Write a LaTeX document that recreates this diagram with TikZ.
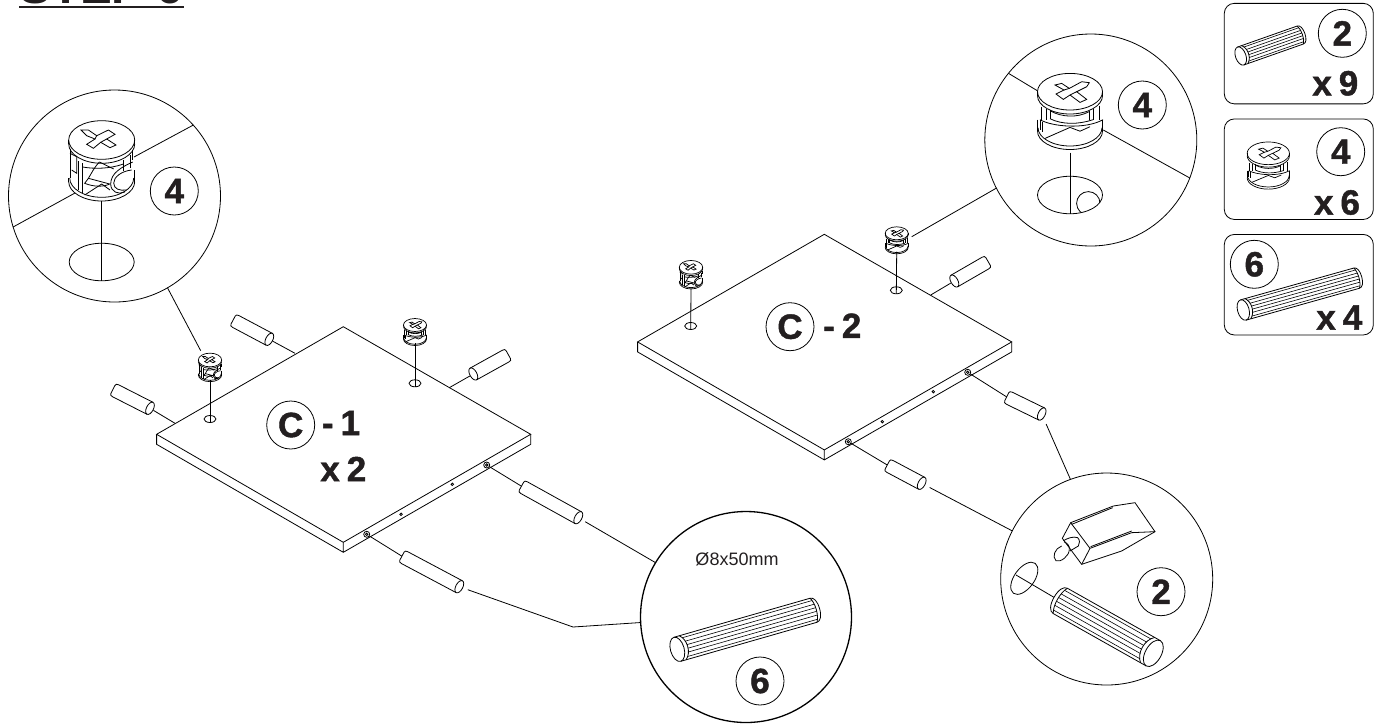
\documentclass[tikz,border=0pt]{standalone}
\usepackage{fontspec}
\usepackage{tikz}
\usetikzlibrary{shapes.geometric}
\setmainfont{Liberation Sans}
\newfontfamily\heavyfont[UprightFont=* Bold,FakeBold=1.3]{Liberation Sans}
\definecolor{ink}{HTML}{231F20}
\newcommand{\gapx}{\hspace{.2em}}
\tikzset{
  callout/.style={draw, circle, inner sep=0pt, outer sep=0pt, minimum size=212pt},
  badge/.style={draw, circle, inner sep=0pt, outer sep=0pt, minimum size=48pt, text=ink, font=\fontsize{35}{35}\selectfont\heavyfont},
  bigtext/.style={inner sep=0pt, text=ink, font=\fontsize{35}{35}\selectfont\heavyfont},
  stockbox/.style={draw, rectangle, rounded corners=10pt, outer sep=0pt, minimum width=149pt, minimum height=100.5pt},
  tophole/.style={draw, ellipse, inner sep=0pt, outer sep=0pt, minimum width=12pt, minimum height=7pt},
  capehole/.style={draw, ellipse, inner sep=0pt, outer sep=0pt, minimum width=65pt, minimum height=37.5pt},
  sidehole/.style={draw, circle, inner sep=0pt, outer sep=0pt, minimum size=6pt},
  pinhole/.style={draw, circle, inner sep=0pt, minimum size=2.5pt}
}
\newcommand{\lowarc}[3]{(-#1,#2) .. controls (-#1,#2+.55*#3) and (-.55*#1,#2+#3) .. (0,#2+#3) .. controls (.55*#1,#2+#3) and (#1,#2+.55*#3) .. (#1,#2)}
\newcommand{\panelbox}[2]{
\begin{scope}[shift={(#1,#2)}]
\draw (0,0) -- (187.4,107.6) -- (0,215.6) -- (-186.7,107.6) -- cycle;
\draw (-186.7,107.6) -- (-186.7,117.6) -- (0,225.6) -- (187.4,117.6) -- (187.4,107.6) (0,215.6) -- (0,225.6);
\end{scope}
}
\newcommand{\plaindowel}[5]{
\begin{scope}[shift={(#2,#3)},rotate=#4]
\coordinate (#1-near) at (0,0);
\coordinate (#1-far) at (#5,0);
\draw (0,6.7) -- (#5-3,6.7) .. controls (#5-1,6.7) and (#5,6) .. (#5,4.5) -- (#5,-4.5) .. controls (#5,-6) and (#5-1,-6.7) .. (#5-3,-6.7) -- (0,-6.7);
\draw (0,0) ellipse (3.5 and 6.7);
\end{scope}
}
\newcommand{\ribdowel}[6]{
\begin{scope}[shift={(#2,#3)},rotate=#4]
\coordinate (#1-far) at (#5,0);
\draw (0,#6) -- (#5-.5*#6,#6) .. controls (#5-.2*#6,#6) and (#5,.6*#6) .. (#5,0) .. controls (#5,-.6*#6) and (#5-.2*#6,-#6) .. (#5-.5*#6,-#6) -- (0,-#6);
\draw (0,0) ellipse ({.55*#6} and #6);
\draw (.45*#6,#6) .. controls (#6,.55*#6) and (#6,-.55*#6) .. (.45*#6,-#6);
\draw (#5-.5*#6,#6) .. controls (#5-.2*#6,.5*#6) and (#5-.2*#6,-.5*#6) .. (#5-.5*#6,-#6);
\foreach \rpos/\rcurv in {-.78/.39,-.45/.8,-.15/.98,.15/.98,.45/.8,.78/.39}
  \draw[line width=.6pt] ({.45*#6+.41*#6*\rcurv},{\rpos*#6}) -- ({#5-.5*#6+.22*#6*\rcurv},{\rpos*#6});
\end{scope}
}
\newcommand{\camround}[3]{
\begin{scope}[shift={(#1,#2)},#3]
\draw (0,0) ellipse (33 and 19.3);
\draw (-20.7,-10) -- (-13.3,-10) -- (-5,-4.3) -- (6.7,-10) -- (13.3,-5.7) -- (5,-1) -- (14.3,5) -- (8.3,7.7) -- (-1,2.3) -- (-8.3,8.3) -- (-15,4.3) -- (-6.7,-1) -- (-15,-4.3) -- cycle;
\draw (-5,-4.3) -- (-6.7,-1) (5,-1) -- (-1,2.3);
\draw \lowarc{33}{4}{19.3};
\draw \lowarc{33}{41.7}{19.3};
\draw \lowarc{32}{38}{19.3};
\draw (-33,0) -- (-33,4) (33,0) -- (33,4) (-33,38) -- (-33,41.7) (33,30) -- (33,41.7);
\draw (-31,9) -- (-31,38) (31,10) -- (31,20);
\draw (-31.7,13.3) -- (-25,16.7) -- (-25,33.3) -- (-30,30);
\draw (-23.3,21) -- (-23.3,50) (-19,23) -- (-19,53) (21.7,20) -- (21.7,31) (28.3,15) -- (28.3,28);
\draw (-19,27) .. controls (-8,29) and (8,29) .. (21.7,24);
\draw (-2.3,22) .. controls (-8,28) and (-10,33) .. (-13.3,38.3) -- (-17,43.3) .. controls (-8,47) and (2,47) .. (8,44) -- (-13.3,38.3);
\draw (-17,55) -- (0,44) -- (8.3,50) (-2.3,22) -- (12,29);
\draw (31,22) .. controls (20,27) and (9,33) .. (9,44) .. controls (9,52) and (17,55) .. (23,52);
\draw (30,30) .. controls (20,31) and (12,37) .. (12,43) .. controls (12,49) and (18,51) .. (25,50);
\end{scope}
}
\newcommand{\camgroove}[3]{
\begin{scope}[shift={(#1,#2)},#3]
\draw (0,0) ellipse (32.5 and 18.3);
\draw (-15,-6.7) -- (-8.3,-8.3) -- (-.7,-3.3) -- (11.7,-10) -- (19.3,-9) -- (16.7,-5) -- (6.7,0) -- (16.7,7.7) -- (10,10.7) -- (0,3.3) -- (-6.7,7.7) -- (-14,2.3) -- (-6,-1.7) -- cycle;
\draw (-.7,-3.3) -- (-6,-1.7) (6.7,0) -- (0,3.3);
\draw \lowarc{32.5}{4}{18.3};
\draw (-32.5,0) -- (-32.5,4) (32.5,0) -- (32.5,4);
\draw (-29,15) -- (-29,28) (29,14) -- (29,28) (-24,17) -- (-24,28) (-20,18) -- (-20,27) (19,19) -- (19,28) (23,17) -- (23,28);
\draw (-20,19) .. controls (-8,26) and (8,26) .. (19,20);
\draw (-20,27) .. controls (-8,33) and (8,33) .. (23,28);
\draw (-30,28) .. controls (-18,35) and (15,38) .. (33,28);
\draw \lowarc{32.5}{39.5}{18.3};
\draw \lowarc{32}{36}{18.3};
\draw (-32.5,28) -- (-32.5,39.5) (32.5,28) -- (32.5,39.5) (-30,28) -- (-30,38) (-28,30) -- (-28,40);
\draw (-25,46.7) -- (0,35.7) -- (10,39.5) -- (20,35);
\end{scope}
}
\begin{document}
\begin{tikzpicture}[x=1pt,y=-1pt,line width=.8pt]
\useasboundingbox (0,0) rectangle (1386,724);
% heading, cut by the page
\node[anchor=base west, inner sep=0pt, text=ink, font=\fontsize{47.6}{47.6}\selectfont\bfseries] (heading) at (19,3) {STEP 6};
\draw[line width=2.3pt, ink] ([yshift=-3.2pt]heading.south west) -- ([yshift=-3.2pt]heading.south east);
% the parts box
\node[stockbox] (stocka) at (1298.8,53.6) {};
\node[stockbox] (stockb) at (1298.8,169.2) {};
\node[stockbox] (stockc) at (1298.8,284.7) {};
\node[badge] (numa) at (1342.3,33.3) {2};
\node[badge] (numb) at (1340.7,151.7) {4};
\node[badge] (numc) at (1254.3,264.3) {6};
\node[bigtext] (qtya) at (1335.3,83.3) {x\gapx 9};
\node[bigtext] (qtyb) at (1337,202.5) {x\gapx 6};
\node[bigtext] (qtyc) at (1339.3,317.5) {x\gapx 4};
\ribdowel{stockrib}{1240.7}{56}{19.4}{68}{9.5}
\ribdowel{stocklong}{1243.3}{310}{15.7}{123}{10.5}
\camgroove{1268.3}{153.3}{xscale=.65,yscale=.62,line width=.7pt}
% the two panels
\panelbox{343.3}{326.7}
\panelbox{824.3}{234.3}
\node[badge] (panela) at (290.7,425) {C};
\node[badge] (panelb) at (790,326.7) {C};
\node[bigtext] (namea) at (341,423) {-\gapx 1};
\node[bigtext] (qtypanel) at (343.3,469) {x\gapx 2};
\node[bigtext] (nameb) at (842.3,325.7) {-\gapx 2};
\foreach \hx/\hy in {401/514.3,452.3/484.3,882.3/421.7,933.3/391.7}
  \node[pinhole] at (\hx,\hy) {};
\node[sidehole] (holea) at (366.7,534.3) {};
\node[sidehole] (holeb) at (486.7,465) {};
\node[sidehole] (holec) at (848.3,441.7) {};
\node[sidehole] (holed) at (967.7,372.3) {};
\foreach \hx/\hy in {366.7/534.3,486.7/465,848.3/441.7,967.7/372.3}
  \node[pinhole] at (\hx,\hy) {};
\node[tophole] (topa) at (210,419) {};
\node[tophole] (topb) at (415,383.3) {};
\node[tophole] (topc) at (690.7,326) {};
\node[tophole] (topd) at (896.3,290.3) {};
% cams above the panels
\camround{210}{360}{scale=.355,line width=.7pt}
\camgroove{415}{325}{scale=.355,line width=.7pt}
\camround{691}{267.3}{scale=.355,line width=.7pt}
\camgroove{896.7}{233.3}{scale=.355,line width=.7pt}
\coordinate (foota) at (210,380);
\coordinate (footb) at (415,343.3);
\coordinate (footc) at (691,287.3);
\coordinate (footd) at (896.7,251.7);
\draw (foota) -- (topa.south);
\draw (footb) -- (topb.south);
\draw (footc) -- (topc.south);
\draw (footd) -- (topd.south);
% dowels
\plaindowel{dowa}{150}{408.3}{153}{41.6}
\plaindowel{dowb}{269.3}{339.3}{152}{41}
\plaindowel{dowc}{473.3}{374}{29}{40}
\plaindowel{dowd}{459.3}{586.7}{152}{65}
\plaindowel{dowe}{578.3}{517.7}{151}{65}
\plaindowel{dowf}{954.3}{281}{30}{39}
\plaindowel{dowg}{1041.7}{414}{154}{39}
\plaindowel{dowh}{921.7}{483.3}{152}{39}
\coordinate (edgea) at (175,423.3);
\coordinate (edgeb) at (295,353.3);
\coordinate (edgec) at (449.3,387.7);
\coordinate (edgef) at (930.7,295);
\draw[shorten >=4pt] (edgea) -- (dowa-near);
\draw[shorten >=4pt] (edgeb) -- (dowb-near);
\draw[shorten >=4pt] (edgec) -- (dowc-near);
\draw[shorten >=4pt] (edgef) -- (dowf-near);
\draw (holea) -- (dowd-far);
\draw (holeb) -- (dowe-far);
\draw (holec) -- (dowh-far);
\draw (holed) -- (dowg-far);
% callout of the round cam
\node[callout] (zooma) at (114.5,196) {};
\node[badge] (numzooma) at (174.3,191) {4};
\node[capehole] (capa) at (101.7,262) {};
\camround{101.7}{140}{}
\coordinate (camtopa) at (134,157);
\coordinate (camlowa) at (75,193);
\coordinate (stema) at (101.7,200.7);
\coordinate (smalla) at (200.7,350.7);
\draw (zooma.42.1) -- (camtopa);
\draw (zooma.197.3) -- (camlowa);
\draw (stema) -- (capa.south);
\draw (zooma.-60.5) -- (smalla);
% callout of the grooved cam
\node[callout] (zoomb) at (1090.8,140) {};
\node[badge] (numzoomb) at (1142.3,105) {4};
\node[capehole] (capb) at (1070,195) {};
\begin{scope}
\clip (1070,195) ellipse (32.5 and 18.8);
\draw (1088.3,203.3) circle (11.7);
\end{scope}
\camgroove{1070}{91.7}{}
\coordinate (camtopb) at (1037.3,90.7);
\coordinate (camlowb) at (1103.3,130);
\coordinate (stemb) at (1070,152.7);
\coordinate (smallb) at (911.7,236.7);
\draw (zoomb.141.5) -- (camtopb);
\draw (zoomb.-21.2) -- (camlowb);
\draw (stemb) -- (capb.south);
\draw (zoomb.207.8) -- (smallb);
% callout of the long dowel
\node[callout, line width=1.3pt, minimum size=211pt] (zoome) at (746,617) {};
\node[badge] (numzoome) at (760,681) {6};
\node[inner sep=0pt, text=ink, font=\fontsize{18}{18}\selectfont] (sizetext) at (737,559) {Ø8x50mm};
\ribdowel{ribe}{677.3}{649.3}{16}{148}{12.5}
\coordinate (elbow) at (573,627);
\draw[shorten <=8pt] (dowe-near) -- (zoome.149.5);
\draw[shorten <=9pt] (dowd-near) -- (elbow) -- (zoome.183.5);
% callout of the short dowel and the glue
\node[callout] (zoomd) at (1106.7,579) {};
\node[badge] (numzoomd) at (1161,591.7) {2};
\node[draw, ellipse, rotate=54, inner sep=0pt, outer sep=0pt, minimum width=37pt, minimum height=20pt] (capd) at (1024.3,578.3) {};
\ribdowel{ribd}{1153.3}{653.3}{150.6}{114}{14.5}
\coordinate (axisd) at (1016,575);
\draw (axisd) -- (ribd-far);
\draw[shorten <=11pt] (dowg-near) -- (zoomd.110.3);
\draw[shorten <=9pt] (dowh-near) -- (zoomd.153.7);
\begin{scope}[shift={(980,470)},scale=.3333]
\draw (272,158) -- (400,108) -- (465,98) -- (525,185) -- (425,243) -- (305,283) -- (247,205) -- cycle;
\draw (272,158) -- (330,235) -- (305,283) (330,235) -- (455,188) -- (525,185);
\draw (275,163) -- (398,113) (332,230) -- (455,183);
\draw (250,212) .. controls (262,205) and (280,198) .. (293,203) .. controls (300,210) and (300,220) .. (295,228) -- (270,243);
\draw (252,215) .. controls (262,220) and (270,228) .. (268,238);
\draw (245,228) .. controls (225,235) and (215,260) .. (228,272) .. controls (242,278) and (268,258) .. (268,238);
\end{scope}
\end{tikzpicture}
\end{document}
